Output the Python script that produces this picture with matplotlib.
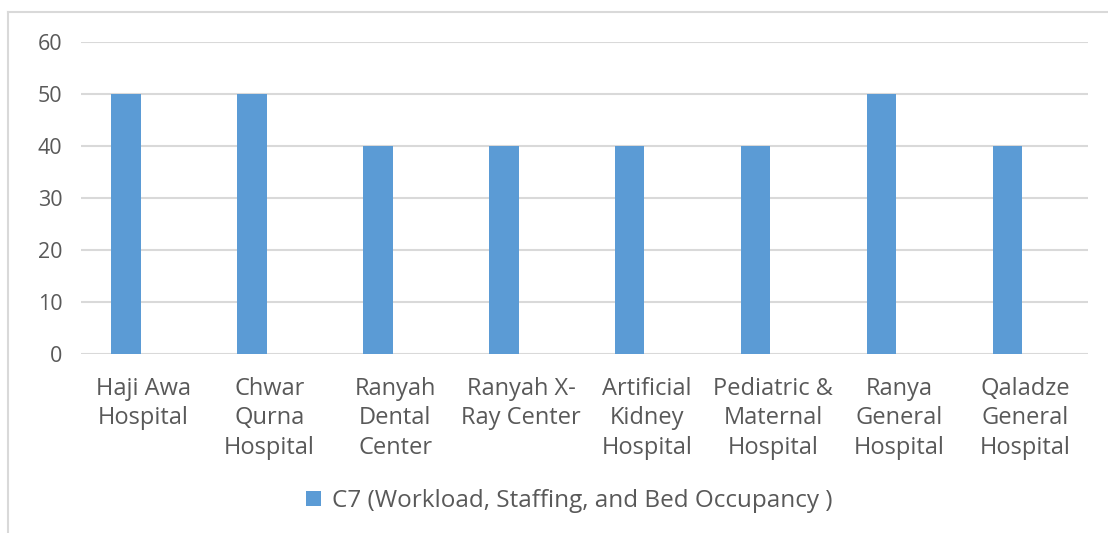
import matplotlib
matplotlib.use("Agg")
import matplotlib.pyplot as plt
from matplotlib.lines import Line2D
from matplotlib.patches import Patch

categories = ["Haji Awa\nHospital", "Chwar\nQurna\nHospital", "Ranyah\nDental\nCenter",
              "Ranyah X-\nRay Center", "Artificial\nKidney\nHospital", "Pediatric &\nMaternal\nHospital",
              "Ranya\nGeneral\nHospital", "Qaladze\nGeneral\nHospital"]
values = [50, 50, 40, 40, 40, 40, 50, 40]
series_name = "C7 (Workload, Staffing, and Bed Occupancy )"
yticks = [0, 10, 20, 30, 40, 50, 60]

bar_color = "#5b9bd5"
text_color = "#595959"
grid_color = "#d9d9d9"

plt.rcParams['font.family'] = ['Open Sans', 'DejaVu Sans']

fig = plt.figure(figsize=(11.08, 5.33), dpi=100)
ax = fig.add_axes([80.5/1108, 1-354/533, (1088-80.5)/1108, (354-42)/533])

x = list(range(len(categories)))
offset = -0.139
ax.bar([i + offset for i in x], values, width=0.234, color=bar_color, zorder=3)

ax.set_xlim(-0.5, len(categories) - 0.5)
ax.set_ylim(0, 60)
ax.set_yticks(yticks)
ax.set_yticklabels([str(t) for t in yticks], fontsize=15.5, color=text_color)
ax.set_xticks(x)
ax.set_xticklabels(categories, fontsize=17, color=text_color, linespacing=1.3, va='top')
ax.tick_params(axis='both', length=0)
ax.tick_params(axis='y', pad=13)
ax.tick_params(axis='x', pad=16.5)
ax.grid(axis='y', color=grid_color, linewidth=1.5, zorder=0)
for s in ax.spines.values():
    s.set_visible(False)

# legend
handles = [Patch(facecolor=bar_color, edgecolor='none')]
fig.legend(handles, [series_name], loc='center', bbox_to_anchor=(569/1108, 1-501/533),
           frameon=False, fontsize=17.5, labelcolor=text_color,
           handlelength=0.62, handleheight=0.62, handletextpad=0.45)

# chart border
fig.add_artist(Line2D([8/1108, 8/1108], [0, 1-12/533], color=grid_color, linewidth=1.5))
fig.add_artist(Line2D([8/1108, 1], [1-12/533, 1-12/533], color=grid_color, linewidth=1.5))

fig.savefig("out.png", dpi=100)
